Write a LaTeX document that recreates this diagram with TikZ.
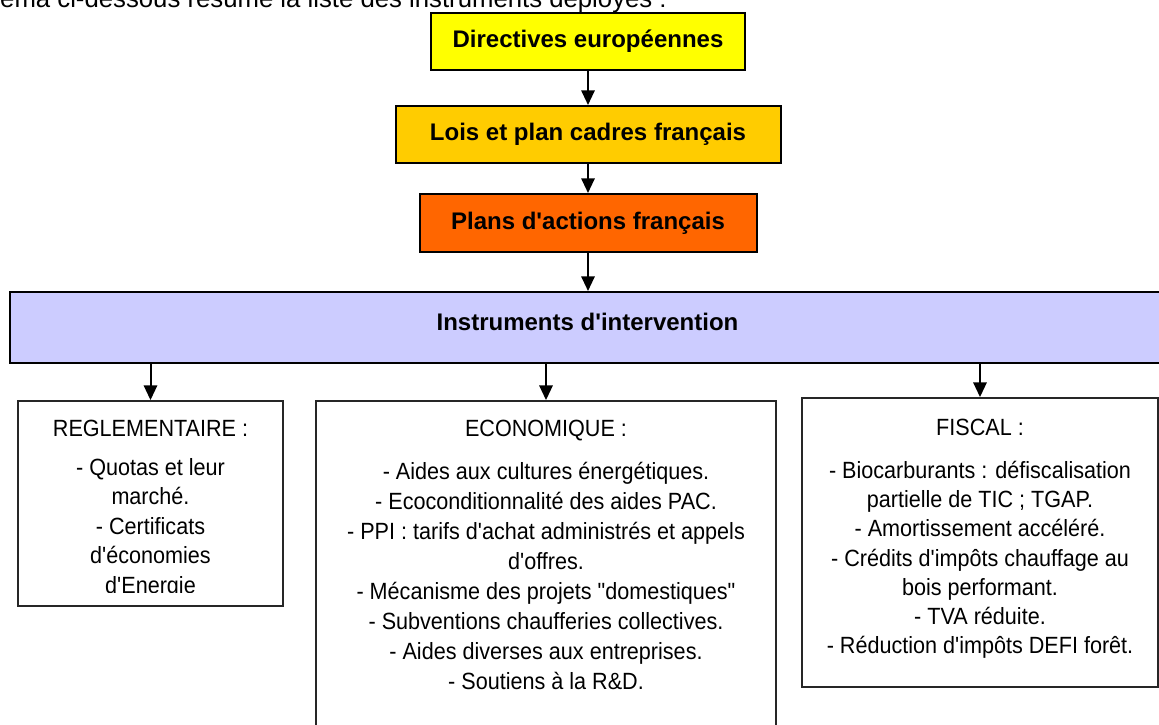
\documentclass[tikz,border=0pt]{standalone}
\usepackage{fontspec}
\setmainfont{Liberation Sans}
\newfontfamily\bodyfont[FakeStretch=0.92]{Liberation Sans}
\newfontfamily\titlefont{Liberation Sans}
\newfontfamily\introfont{Liberation Sans}
\usetikzlibrary{arrows.meta}
\definecolor{boxyellow}{HTML}{FFFF00}
\definecolor{boxgold}{HTML}{FFCC00}
\definecolor{boxorange}{HTML}{FF6600}
\definecolor{boxlav}{HTML}{CCCCFF}
\begin{document}
\begin{tikzpicture}[x=0.75pt,y=-0.75pt,
  topbox/.style={draw=black, line width=1.5pt, inner sep=0pt,
    font=\titlefont\fontsize{18}{21}\selectfont\bfseries, text height=13pt, text depth=4pt},
  conn/.style={line width=1.5pt, -{Triangle[width=10pt,length=11pt]}},
  catbox/.style={draw=black!85, line width=1.4pt, inner sep=0pt},
  bodytext/.style={font=\bodyfont\fontsize{17.6}{22.1}\selectfont, align=center, anchor=base, inner sep=0pt},
  listtext/.style={bodytext, anchor=north},
]
\useasboundingbox (0,0) rectangle (1159,724);
\clip (0,0) rectangle (1159,724);

% intro line (cut by the page edge)
\node[font=\introfont\fontsize{19.3}{24}\selectfont, inner sep=0pt, anchor=base east] (intro) at (667,8) {Le schéma ci-dessous résume la liste des instruments déployés :};

% top chain
\node[topbox, fill=boxyellow, minimum width=235.5pt, minimum height=42.75pt] (dir) at (588,41.5) {Directives européennes};
\node[topbox, fill=boxgold, minimum width=288.75pt, minimum height=42.75pt] (lois) at (588,134.5) {Lois et plan cadres français};
\node[topbox, fill=boxorange, minimum width=252.75pt, minimum height=43.5pt] (plans) at (588,223) {Plans d'actions français};
\node[topbox, fill=boxlav, minimum width=866.25pt, minimum height=53.25pt, text depth=7.8pt] (instr) at (587.5,327.5) {Instruments d'intervention};

\draw[conn] (dir.south) -- (lois.north);
\draw[conn] (lois.south) -- (plans.north);
\draw[conn] (plans.south) -- (plans.south |- instr.north);

% category boxes
\node[catbox, minimum width=198.75pt, minimum height=153.75pt] (reg) at (150.5,503.5) {};
\node[catbox, minimum width=345pt, minimum height=258pt] (econ) at (546,573) {};
\node[catbox, minimum width=267pt, minimum height=216.75pt] (fisc) at (980,542.5) {};

\draw[conn] (instr.south -| reg.north) -- (reg.north);
\draw[conn] (instr.south -| econ.north) -- (econ.north);
\draw[conn] (instr.south -| fisc.north) -- (fisc.north);

% texts
\node[bodytext] (regt) at (150.5,436) {REGLEMENTAIRE :};
\begin{scope}
\clip (18,401) rectangle (283,592);
\node[listtext] (regl) at (150.5,458) {- Quotas et leur\\marché.\\- Certificats\\d'économies\\d'Energie};
\end{scope}

\node[bodytext] (econt) at (546,436) {ECONOMIQUE :};
\node[listtext, font=\bodyfont\fontsize{17.6}{22.5}\selectfont] (econl) at (546,462) {- Aides aux cultures énergétiques.\\- Ecoconditionnalité des aides PAC.\\- PPI : tarifs d'achat administrés et appels\\d'offres.\\- Mécanisme des projets "domestiques"\\- Subventions chaufferies collectives.\\- Aides diverses aux entreprises.\\- Soutiens à la R\&D.};

\node[bodytext] (fisct) at (980,435) {FISCAL :};
\node[listtext, font=\bodyfont\fontsize{17.6}{21.9}\selectfont] (fiscl) at (980,461) {- Biocarburants : défiscalisation\\partielle de TIC ; TGAP.\\- Amortissement accéléré.\\- Crédits d'impôts chauffage au\\bois performant.\\- TVA réduite.\\- Réduction d'impôts DEFI forêt.};
\end{tikzpicture}
\end{document}
